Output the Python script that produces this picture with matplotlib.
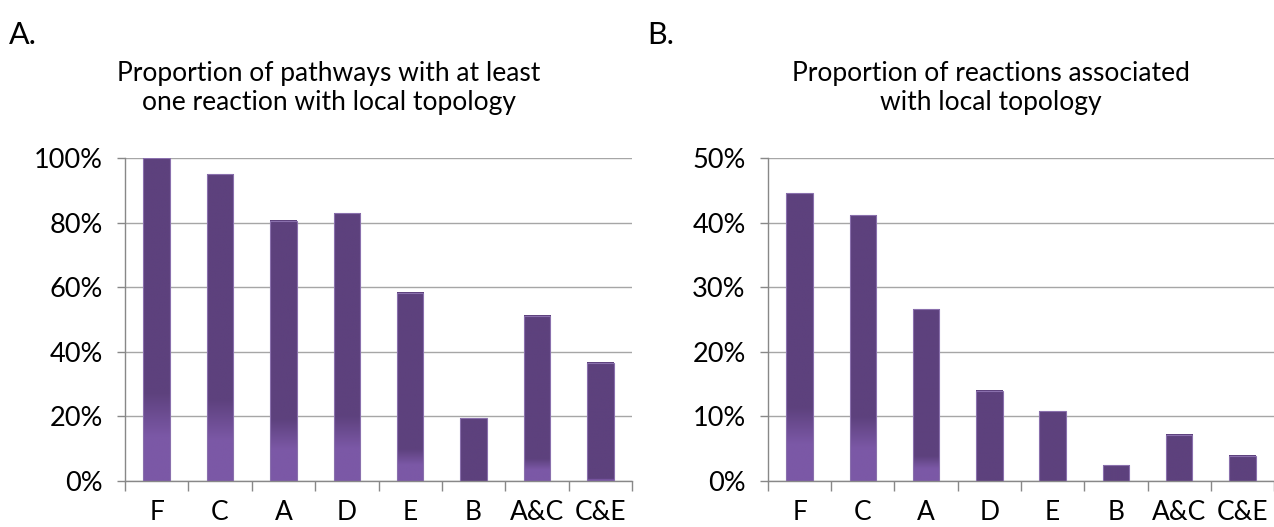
import matplotlib
matplotlib.use("Agg")
import matplotlib.pyplot as plt
import numpy as np
from matplotlib.ticker import FuncFormatter, MultipleLocator

plt.rcParams['font.family'] = ['Lato', 'DejaVu Sans']

categories = ["F", "C", "A", "D", "E", "B", "A&C", "C&E"]
pathways = [1.00, 0.949, 0.806, 0.829, 0.583, 0.194, 0.512, 0.366]
reactions = [0.4455, 0.411, 0.266, 0.140, 0.108, 0.0246, 0.0717, 0.0393]

title_a = "Proportion of pathways with at least\none reaction with local topology"
title_b = "Proportion of reactions associated\nwith local topology"

dark = np.array([93, 65, 125]) / 255
light = np.array([123, 88, 166]) / 255


def gradient_bars(ax, values, ymax):
    width = 0.42
    for i, v in enumerate(values):
        hf = v / ymax
        # lighter band near the base, grows with bar height (excel-style fill)
        end = max(0.42 * (hf - 0.35), 0.0) * ymax
        start = end * 0.5
        ys = np.linspace(0, v, 200)
        if end > 0:
            t = np.clip((end - ys) / max(end - start, 1e-9), 0, 1)
        else:
            t = np.zeros_like(ys)
        cols = dark[None, :] * (1 - t[:, None]) + light[None, :] * t[:, None]
        img = cols[::-1][:, None, :]
        ax.imshow(img, extent=(i - width / 2, i + width / 2, 0, v),
                  aspect='auto', zorder=2, interpolation='bilinear')
        ax.bar(i, v, width=width, facecolor='none', edgecolor='#8a70ad',
               linewidth=0.8, zorder=3)


def style_axis(ax, ymax, step):
    ax.set_xlim(-0.5, len(categories) - 0.5)
    ax.set_ylim(0, ymax)
    ax.yaxis.set_major_locator(MultipleLocator(step))
    ax.yaxis.set_major_formatter(FuncFormatter(lambda v, p: f"{v*100:.0f}%"))
    ax.set_xticks(range(len(categories)))
    ax.set_xticklabels(categories)
    ax.set_xticks(np.arange(-0.5, len(categories), 1.0), minor=True)
    ax.tick_params(axis='x', which='major', length=0, pad=14, labelsize=19)
    ax.tick_params(axis='x', which='minor', length=7, width=1, color='#888888')
    ax.tick_params(axis='y', length=6, width=1, color='#888888', pad=10,
                   labelsize=19.5)
    ax.grid(axis='y', color='#a6a6a6', linewidth=1)
    ax.set_axisbelow(True)
    for s in ['top', 'right']:
        ax.spines[s].set_visible(False)
    for s in ['left', 'bottom']:
        ax.spines[s].set_color('#888888')
        ax.spines[s].set_linewidth(1)


fig = plt.figure(figsize=(12.74, 5.27), dpi=100)
ax1 = fig.add_axes([125 / 1274, 46 / 527, 507 / 1274, 323 / 527])
ax2 = fig.add_axes([768 / 1274, 46 / 527, 506 / 1274, 323 / 527])

gradient_bars(ax1, pathways, 1.0)
style_axis(ax1, 1.0, 0.2)
gradient_bars(ax2, reactions, 0.5)
style_axis(ax2, 0.5, 0.1)

fig.text(329 / 1274, 1 - 88 / 527, title_a, ha='center', va='center',
         fontsize=19, linespacing=1.2)
fig.text(991 / 1274, 1 - 88 / 527, title_b, ha='center', va='center',
         fontsize=19, linespacing=1.2)
fig.text(9 / 1274, 1 - 35 / 527, "A.", ha='left', va='center', fontsize=22)
fig.text(647 / 1274, 1 - 35 / 527, "B.", ha='left', va='center', fontsize=22)

fig.savefig("out.png", dpi=100)
